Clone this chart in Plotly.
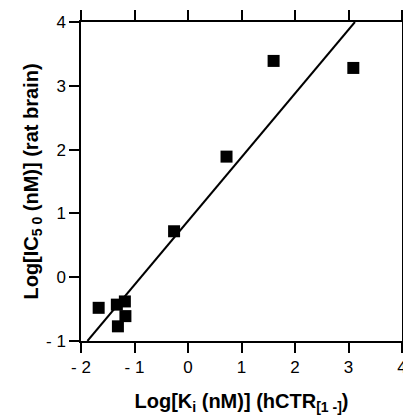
import plotly.graph_objects as go

# Data
log_ki = [3.09, 1.60, 0.72, -0.26, -1.67, -1.33, -1.18, -1.17, -1.31]
log_ic50 = [3.28, 3.39, 1.89, 0.72, -0.48, -0.43, -0.38, -0.61, -0.77]
fit_x = [-1.88, 3.12]
fit_y = [-1.0, 4.0]

x_tickvals = [-2, -1, 0, 1, 2, 3, 4]
x_ticktext = ["- 2", "- 1", "0", "1", "2", "3", "4"]
y_tickvals = [-1, 0, 1, 2, 3, 4]
y_ticktext = ["- 1", "0", "1", "2", "3", "4"]

fig = go.Figure()
fig.add_trace(go.Scatter(x=fit_x, y=fit_y, mode="lines",
                         line=dict(color="black", width=2), cliponaxis=True,
                         showlegend=False))
fig.add_trace(go.Scatter(x=log_ki, y=log_ic50, mode="markers",
                         marker=dict(symbol="square", size=12, color="black"),
                         cliponaxis=False, showlegend=False))

font = dict(family="Liberation Sans, Arial, sans-serif", color="black")
axis_common = dict(showgrid=False, zeroline=False, showline=True, linecolor="black",
                   linewidth=1.5, ticks="outside", ticklen=10, tickwidth=1.5,
                   tickcolor="black", mirror="ticks", automargin=False,
                   ticklabeloverflow="allow",
                   tickfont=dict(size=17, **font))

fig.update_layout(
    width=403, height=418,
    margin=dict(l=81, r=1, t=22, b=77),
    paper_bgcolor="white", plot_bgcolor="white",
    xaxis=dict(range=[-2, 4], tickvals=x_tickvals, ticktext=x_ticktext,
               title=dict(text="<b>Log[K<sub>i</sub> (nM)] (hCTR<sub>[1 -]</sub>)</b>",
                          font=dict(size=20, **font), standoff=18),
               **axis_common),
    yaxis=dict(range=[-1, 4], tickvals=y_tickvals, ticktext=y_ticktext,
               title=dict(text="<b>Log[IC<sub>5 0</sub> (nM)] (rat brain)</b>",
                          font=dict(size=20, **font), standoff=2),
               **axis_common),
)

fig.write_html("out.html", config={"displayModeBar": False},
               post_script="document.body.style.margin='0px';")
